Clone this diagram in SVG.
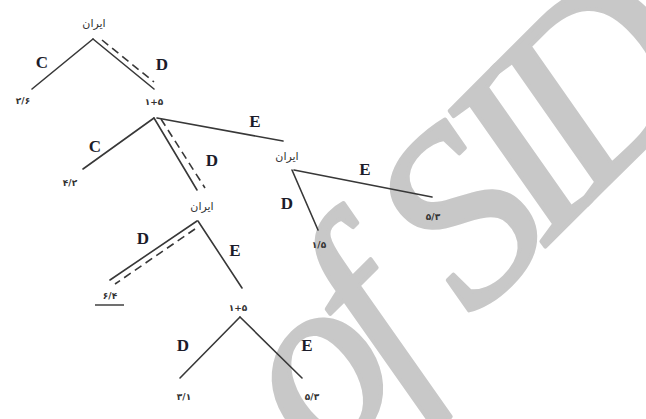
<svg xmlns="http://www.w3.org/2000/svg" width="646" height="419" viewBox="0 0 646 419">
<style>
.wm{font-family:"Liberation Serif",serif;font-style:italic;font-size:250px;fill:#c8c8c8;stroke:#c8c8c8;stroke-width:4;stroke-linejoin:round;letter-spacing:-22px}
.e{stroke:#383838;stroke-width:1.6;fill:none;stroke-linecap:round}
.d{stroke:#383838;stroke-width:1.6;fill:none;stroke-dasharray:8 5}
.lb{font-family:"Liberation Serif",serif;font-weight:bold;font-size:17px;fill:#1c1c2a;text-anchor:middle;dominant-baseline:central}
.fa{font-family:"DejaVu Sans",sans-serif;font-size:11px;fill:#333;text-anchor:middle;dominant-baseline:central}
.nm{font-family:"DejaVu Sans",sans-serif;font-size:9px;font-weight:bold;fill:#333;text-anchor:middle;dominant-baseline:central;letter-spacing:2px;direction:ltr}
</style>
<rect width="646" height="419" fill="#fff"/>
<text class="wm" transform="translate(324,468) rotate(-45)">of <tspan dx="20">SID</tspan></text>
<g id="connectors">
<line class="e" x1="93" y1="39" x2="32" y2="89"/>
<line class="e" x1="93" y1="39" x2="154" y2="89"/>
<line class="d" x1="102" y1="40" x2="154" y2="82"/>
<line class="e" x1="154" y1="118" x2="83" y2="169"/>
<line class="e" x1="154" y1="118" x2="197" y2="190"/>
<line class="d" x1="161" y1="119" x2="205" y2="188"/>
<line class="e" x1="157" y1="118" x2="283" y2="141"/>
<line class="e" x1="292" y1="170" x2="318" y2="230"/>
<line class="e" x1="294" y1="170" x2="432" y2="197"/>
<line class="e" x1="197" y1="221" x2="110" y2="280"/>
<line class="d" x1="195" y1="229" x2="115" y2="284"/>
<line class="e" x1="198" y1="221" x2="242" y2="288"/>
<line class="e" x1="240" y1="317" x2="180" y2="378"/>
<line class="e" x1="240" y1="317" x2="302" y2="378"/>
<text class="lb" x="42" y="62">C</text>
<text class="lb" x="162" y="64">D</text>
<text class="lb" x="95" y="146">C</text>
<text class="lb" x="212" y="160">D</text>
<text class="lb" x="255" y="121">E</text>
<text class="lb" x="287" y="203">D</text>
<text class="lb" x="365" y="169">E</text>
<text class="lb" x="143" y="238">D</text>
<text class="lb" x="235" y="250">E</text>
<text class="lb" x="183" y="345">D</text>
<text class="lb" x="307" y="345">E</text>
</g>
<g id="n_root"><text class="fa" x="94" y="23">ایران</text></g>
<g id="n_p1"><text class="nm" x="154" y="102">۱+۵</text></g>
<g id="n_i2"><text class="fa" x="287" y="156">ایران</text></g>
<g id="n_i3"><text class="fa" x="202" y="206">ایران</text></g>
<g id="n_p2"><text class="nm" x="238" y="308">۱+۵</text></g>
<g id="l1"><text class="nm" x="23" y="101">۲/۶</text></g>
<g id="l2"><text class="nm" x="70" y="183">۴/۲</text></g>
<g id="l3"><text class="nm" x="319" y="245">۱/۵</text></g>
<g id="l4"><text class="nm" x="433" y="217">۵/۳</text></g>
<g id="l5"><text class="nm" x="110" y="296">۶/۴</text><line x1="95" y1="305" x2="124" y2="305" stroke="#333" stroke-width="1.4"/></g>
<g id="l6"><text class="nm" x="184" y="397">۳/۱</text></g>
<g id="l7"><text class="nm" x="312" y="397">۵/۳</text></g>
</svg>
